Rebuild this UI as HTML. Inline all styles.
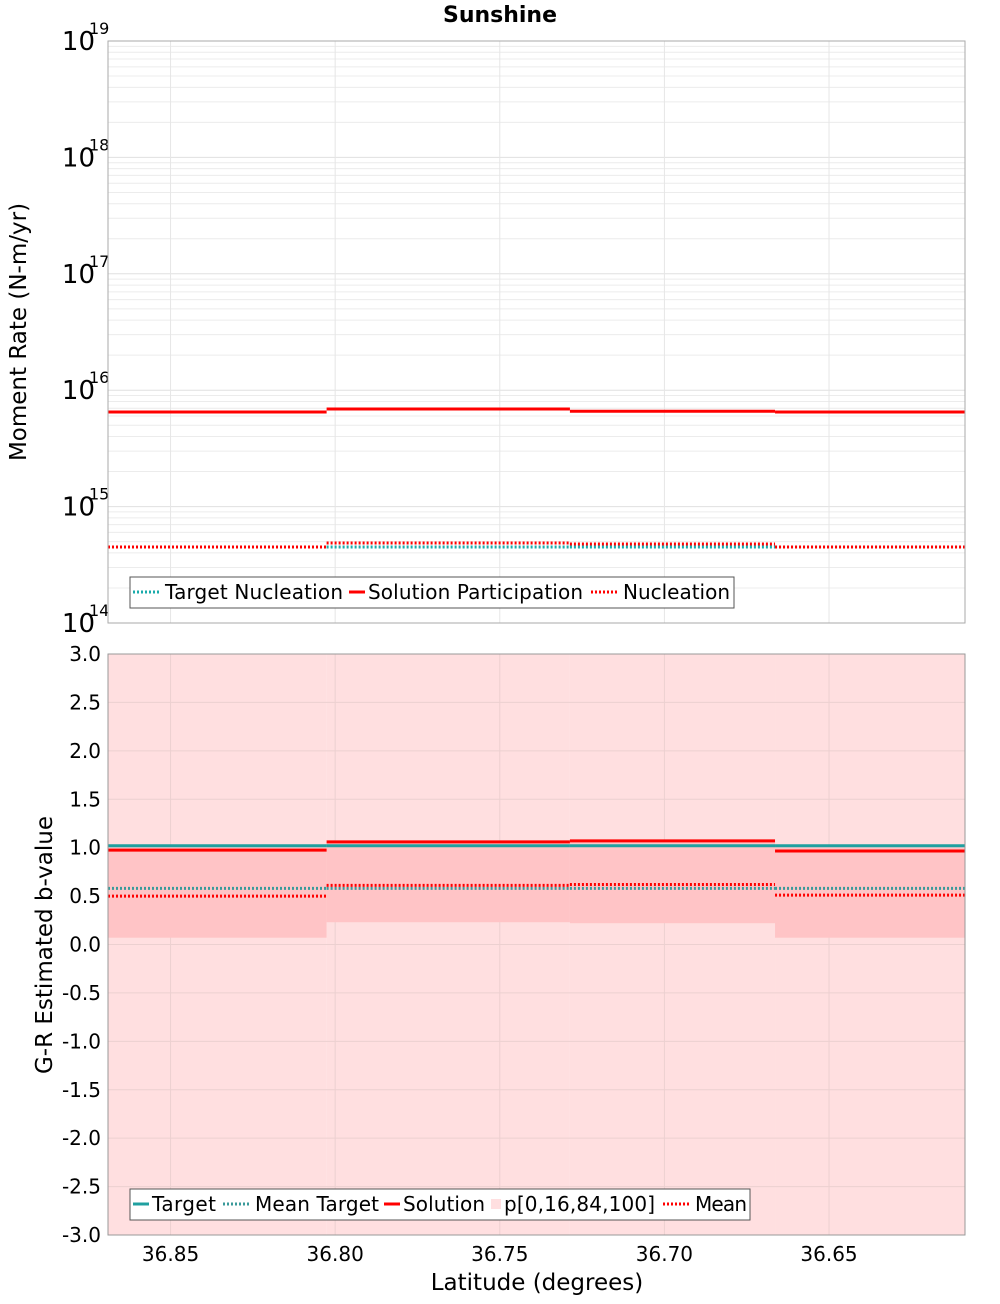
<!DOCTYPE html>
<html><head><meta charset="utf-8"><style>
body{margin:0;background:#fff;font-family:"DejaVu Sans","Liberation Sans",sans-serif}
svg text{font-family:"DejaVu Sans","Liberation Sans",sans-serif}
</style></head><body>
<svg id="c" width="1000" height="1300" xmlns="http://www.w3.org/2000/svg"></svg>
<script>
// data
const segEdges=[36.869,36.8026,36.7287,36.6664,36.6087];
const xTicks=[36.85,36.80,36.75,36.70,36.65];
const xTickLabels=["36.85","36.80","36.75","36.70","36.65"];
const targetNucl=[4.5e14,4.5e14,4.5e14,4.5e14];
const solPart=[6.5e15,6.9e15,6.6e15,6.5e15];
const nucl=[4.5e14,4.87e14,4.77e14,4.5e14];
const bTarget=[1.02,1.02,1.02,1.02];
const bMeanTarget=[0.58,0.58,0.58,0.58];
const bSolution=[0.975,1.06,1.07,0.965];
const bMean=[0.50,0.61,0.62,0.51];
const bP0=[-3,-3,-3,-3];
const bP16=[0.07,0.23,0.22,0.07];
const bP84=[1.0,1.06,1.07,1.0];
const bP100=[3,3,3,3];
const bTicks=[3,2.5,2,1.5,1,0.5,0,-0.5,-1,-1.5,-2,-2.5,-3];
const logDecades=[14,15,16,17,18,19];

const svg=document.getElementById('c');const NS="http://www.w3.org/2000/svg";
function el(t,a,p){const e=document.createElementNS(NS,t);for(const k in a)e.setAttribute(k,a[k]);(p||svg).appendChild(e);return e;}
const L=108,R=965;
const xs=v=>L+(36.869-v)/(36.869-36.6087)*(R-L);
const T1=41,B1=623;const ly=v=>B1-(Math.log10(v)-14)/5*(B1-T1);
const T2=654,B2=1235;const by=v=>T2+(3-v)/6*(B2-T2);

let t=el('text',{x:500,y:22,'text-anchor':'middle','font-size':22,'font-weight':'bold'});t.textContent="Sunshine";


// top panel
el('rect',{x:L,y:T1,width:R-L,height:B1-T1,fill:'#fff'});
for(let d=14;d<19;d++)for(let m=2;m<10;m++){const y=ly(m*Math.pow(10,d));el('line',{x1:L,x2:R,y1:y,y2:y,stroke:'#ececec','stroke-width':1});}
logDecades.forEach(d=>{const y=ly(Math.pow(10,d));el('line',{x1:L,x2:R,y1:y,y2:y,stroke:'#e0e0e0'});
 const g=el('text',{x:95,y:y+9,'text-anchor':'end','font-size':26});g.textContent="10";
 
 const s=el('text',{x:89,y:y-7,'font-size':16});s.textContent=d;});
xTicks.forEach(v=>{el('line',{x1:xs(v),x2:xs(v),y1:T1,y2:B1,stroke:'#e6e6e6'});});
function step(arr,f,attrs,name){for(let i=0;i<arr.length;i++){const l=el('line',Object.assign({x1:xs(segEdges[i]),x2:xs(segEdges[i+1]),y1:f(arr[i]),y2:f(arr[i])},attrs));
 }}
step(solPart,ly,{stroke:'#f00','stroke-width':3},'solution-participation');
step(targetNucl,ly,{stroke:'#1aabab','stroke-width':3,'stroke-dasharray':'2,2'},'target-nucleation');
step(nucl,ly,{stroke:'#f00','stroke-width':3,'stroke-dasharray':'2,2'},'nucleation');
el('rect',{x:L,y:T1,width:R-L,height:B1-T1,fill:'none',stroke:'#aaa'});
t=el('text',{x:0,y:0,'font-size':23,'text-anchor':'middle',transform:`translate(26,332) rotate(-90)`});t.textContent="Moment Rate (N-m/yr)";

// legend top
let lg=el('g',{});
el('rect',{x:130,y:577,width:604,height:31,fill:'#fff',stroke:'#555'},lg);
el('line',{x1:133,x2:161,y1:592,y2:592,stroke:'#1aabab','stroke-width':3,'stroke-dasharray':'2,2'},lg);
t=el('text',{x:165,y:599,'font-size':20,textLength:178},lg);t.textContent="Target Nucleation";
el('line',{x1:349,x2:365,y1:592,y2:592,stroke:'#f00','stroke-width':3},lg);
t=el('text',{x:368,y:599,'font-size':20,textLength:215},lg);t.textContent="Solution Participation";
el('line',{x1:591,x2:619,y1:592,y2:592,stroke:'#f00','stroke-width':3,'stroke-dasharray':'2,2'},lg);
t=el('text',{x:623,y:599,'font-size':20,textLength:107},lg);t.textContent="Nucleation";

// bottom panel
for(let i=0;i<4;i++){const x1=xs(segEdges[i]),x2=xs(segEdges[i+1]);
 let r=el('rect',{x:x1,y:by(bP100[i]),width:x2-x1,height:by(bP0[i])-by(bP100[i]),fill:'#ffdfe0'});
 }
bTicks.forEach(v=>{el('line',{x1:L,x2:R,y1:by(v),y2:by(v),stroke:'#ecd0d0'});
 const g=el('text',{x:101,y:by(v)+7,'text-anchor':'end','font-size':20});g.textContent=v.toFixed(1);
 });
xTicks.forEach(v=>el('line',{x1:xs(v),x2:xs(v),y1:T2,y2:B2,stroke:'#ecd0d0'}));
for(let i=0;i<4;i++){const x1=xs(segEdges[i]),x2=xs(segEdges[i+1]);
 let r=el('rect',{x:x1,y:by(bP84[i]),width:x2-x1,height:by(bP16[i])-by(bP84[i]),fill:'#ffc4c6'});
 }
step(bTarget,by,{stroke:'#20a0a0','stroke-width':3},'target');
step(bSolution,by,{stroke:'#f00','stroke-width':3},'solution');
step(bMeanTarget,by,{stroke:'#3a9a9a','stroke-width':3,'stroke-dasharray':'2,2'},'mean-target');
step(bMean,by,{stroke:'#f00','stroke-width':3,'stroke-dasharray':'2,2'},'mean');
el('rect',{x:L,y:T2,width:R-L,height:B2-T2,fill:'none',stroke:'#999'});
xTicks.forEach((v,i)=>{const g=el('text',{x:xs(v),y:1261,'text-anchor':'middle','font-size':20});g.textContent=xTickLabels[i];
 });
t=el('text',{x:537,y:1290,'text-anchor':'middle','font-size':23});t.textContent="Latitude (degrees)";

t=el('text',{x:0,y:0,'font-size':23,'text-anchor':'middle',transform:`translate(52,945) rotate(-90)`});t.textContent="G-R Estimated b-value";

lg=el('g',{});
el('rect',{x:130,y:1189,width:620,height:31,fill:'#fff',stroke:'#555'},lg);
el('line',{x1:133,x2:149,y1:1204,y2:1204,stroke:'#20a0a0','stroke-width':3},lg);
t=el('text',{x:152,y:1211,'font-size':20,textLength:64},lg);t.textContent="Target";
el('line',{x1:223,x2:251,y1:1204,y2:1204,stroke:'#3a9a9a','stroke-width':3,'stroke-dasharray':'2,2'},lg);
t=el('text',{x:255,y:1211,'font-size':20,textLength:124},lg);t.textContent="Mean Target";
el('line',{x1:384,x2:400,y1:1204,y2:1204,stroke:'#f00','stroke-width':3},lg);
t=el('text',{x:403,y:1211,'font-size':20,textLength:82},lg);t.textContent="Solution";
el('rect',{x:491,y:1199,width:10,height:10,fill:'#ffdfe0'},lg);
t=el('text',{x:504,y:1211,'font-size':20,textLength:151},lg);t.textContent="p[0,16,84,100]";
el('line',{x1:663,x2:691,y1:1204,y2:1204,stroke:'#f00','stroke-width':3,'stroke-dasharray':'2,2'},lg);
t=el('text',{x:695,y:1211,'font-size':20,textLength:52},lg);t.textContent="Mean";
</script>
</body></html>
